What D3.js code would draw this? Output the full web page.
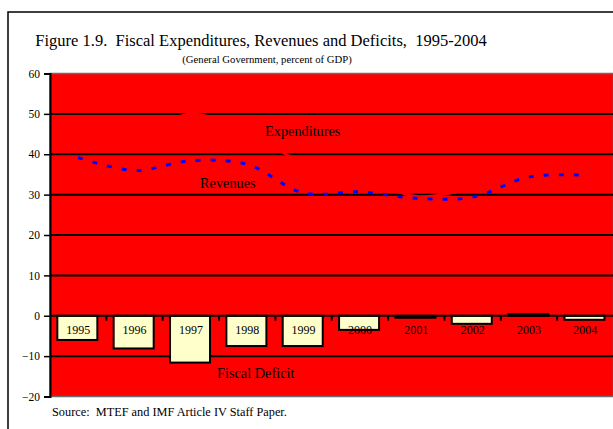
<!DOCTYPE html>
<html>
<head>
<meta charset="utf-8">
<script src="https://cdn.jsdelivr.net/npm/d3@7"></script>
<style>
  body { margin: 0; background: #fff; }
  svg text { font-family: "Liberation Serif", "Times New Roman", serif; }
</style>
</head>
<body>
<script>
//chart values
var years = ["1995","1996","1997","1998","1999","2000","2001","2002","2003","2004"];
var revenues = [39.2, 36.0, 38.4, 37.5, 30.4, 30.7, 29.1, 29.4, 34.4, 34.8];
var expenditures = [45.2, 44.1, 50.0, 45.0, 37.9, 34.2, 29.6, 31.4, 34.0, 35.8];
var deficit = [-6.0, -8.1, -11.6, -7.5, -7.5, -3.5, -0.5, -2.0, 0.4, -1.0];
var yTicks = [-20, -10, 0, 10, 20, 30, 40, 50, 60];

var draw_chart = function(){
	var w = 613, h = 429;
	var pl = 50, pr = 613.5, pt = 73.5, pb = 396.5;

	var svg = d3.select("body").append("svg")
		.attr("width", w)
		.attr("height", h);

	//outer frame
	svg.append("rect")
		.attr("x", 8).attr("y", 12)
		.attr("width", 640).attr("height", 440)
		.attr("fill", "white")
		.attr("stroke", "black")
		.attr("stroke-width", 1.5);

	//titles
	svg.append("text")
		.attr("x", 261).attr("y", 46)
		.attr("text-anchor", "middle")
		.attr("xml:space", "preserve")
		.style("font-size", "16.5px")
		.text("Figure 1.9.  Fiscal Expenditures, Revenues and Deficits,  1995-2004");

	svg.append("text")
		.attr("x", 267).attr("y", 63)
		.attr("text-anchor", "middle")
		.style("font-size", "10.7px")
		.text("(General Government, percent of GDP)");

	var x = d3.scaleBand().domain(years).range([pl, pr]);
	var y = d3.scaleLinear().domain([-20, 60]).range([pb, pt]);
	var bw = x.bandwidth();

	//plot area
	svg.append("rect")
		.attr("x", pl).attr("y", pt)
		.attr("width", pr - pl).attr("height", pb - pt)
		.attr("fill", "#ff0000")
		.attr("stroke", "#6b6b6b")
		.attr("stroke-width", 1.5);

	//gridlines
	svg.append("g").selectAll("line")
		.data(yTicks.filter(function(d){ return d > -20 && d < 60 && d != 0; }))
		.enter().append("line")
		.attr("x1", pl).attr("x2", pr)
		.attr("y1", function(d){ return y(d); })
		.attr("y2", function(d){ return y(d); })
		.attr("stroke", "black")
		.attr("stroke-width", 2);

	//deficit bars
	svg.append("g").selectAll("rect")
		.data(deficit)
		.enter().append("rect")
		.attr("x", function(d, i){ return x(years[i]) + bw * 0.13; })
		.attr("width", bw * 0.71)
		.attr("y", function(d){ return y(Math.max(0, d)); })
		.attr("height", function(d){ return Math.abs(y(d) - y(0)); })
		.attr("fill", "#ffffcc")
		.attr("stroke", "black")
		.attr("stroke-width", 2);

	//zero axis and category ticks
	svg.append("line")
		.attr("x1", pl).attr("x2", pr)
		.attr("y1", y(0)).attr("y2", y(0))
		.attr("stroke", "black")
		.attr("stroke-width", 2);

	svg.append("g").selectAll("line")
		.data(years.slice(1))
		.enter().append("line")
		.attr("x1", function(d){ return x(d); })
		.attr("x2", function(d){ return x(d); })
		.attr("y1", y(0)).attr("y2", y(0) + 5)
		.attr("stroke", "black")
		.attr("stroke-width", 2);

	//lines
	var line = d3.line()
		.x(function(d, i){ return x(years[i]) + bw / 2; })
		.y(function(d){ return y(d); })
		.curve(d3.curveCatmullRom.alpha(0.5));

	svg.append("path")
		.datum(expenditures)
		.attr("d", line)
		.attr("fill", "none")
		.attr("stroke", "#ff0000")
		.attr("stroke-width", 2.5);

	svg.append("path")
		.datum(revenues)
		.attr("d", line)
		.attr("fill", "none")
		.attr("stroke", "#0000ff")
		.attr("stroke-width", 3)
		.attr("stroke-dasharray", "5,10");

	//y axis
	var yAxis = svg.append("g")
		.attr("transform", "translate(" + pl + ",0)")
		.call(d3.axisLeft(y).tickValues(yTicks).tickSize(6).tickPadding(4));
	yAxis.select(".domain").attr("stroke-width", 2);
	yAxis.selectAll(".tick line").attr("stroke-width", 1.5);
	yAxis.selectAll("text")
		.attr("font-family", "Liberation Serif")
		.style("font-size", "11.5px")
		.attr("fill", "black");

	//year labels
	svg.append("g").selectAll("text")
		.data(years)
		.enter().append("text")
		.attr("x", function(d){ return x(d) + bw / 2; })
		.attr("y", 334)
		.attr("text-anchor", "middle")
		.style("font-size", "12px")
		.text(function(d){ return d; });

	//series labels
	svg.append("text").attr("x", 265).attr("y", 136).style("font-size", "14.3px").text("Expenditures");
	svg.append("text").attr("x", 200).attr("y", 188).style("font-size", "14.3px").text("Revenues");
	svg.append("text").attr("x", 217).attr("y", 378).style("font-size", "14.3px").text("Fiscal Deficit");

	//source
	svg.append("text")
		.attr("x", 52).attr("y", 416)
		.attr("xml:space", "preserve")
		.style("font-size", "12.3px")
		.text("Source:  MTEF and IMF Article IV Staff Paper.");
};

draw_chart();
</script>
</body>
</html>
